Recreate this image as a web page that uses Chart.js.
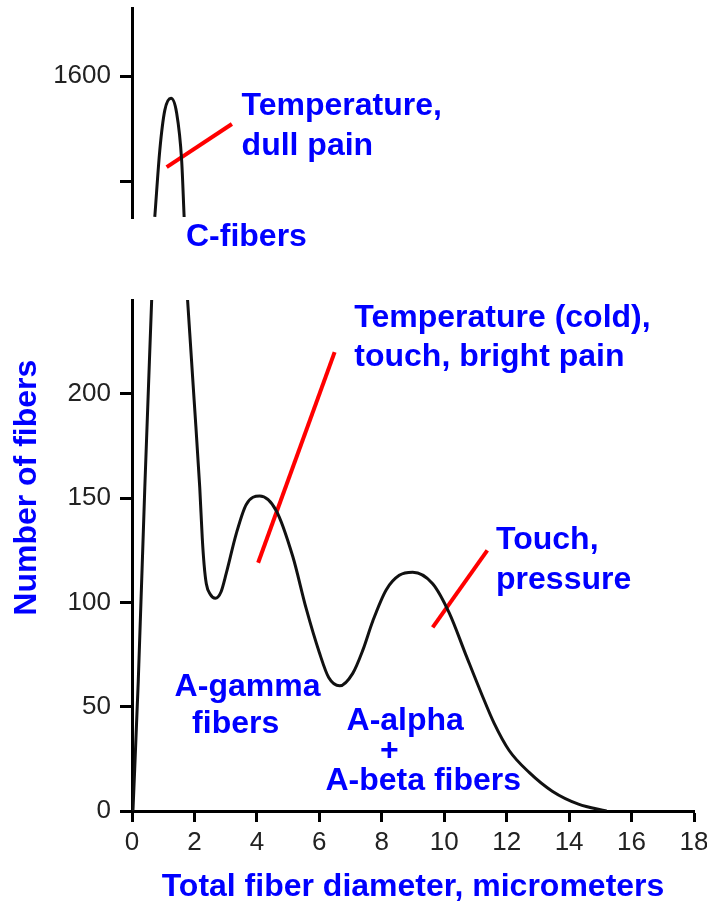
<!DOCTYPE html>
<html>
<head>
<meta charset="utf-8">
<script src="https://cdn.jsdelivr.net/npm/chart.js@4"></script>
<style>
  html, body { margin: 0; padding: 0; background: #fff; }
  #wrap { position: relative; width: 707px; height: 906px; }
  canvas { position: absolute; left: 0; top: 0; }
</style>
</head>
<body>
<div id="wrap">
  <canvas id="topChart" width="707" height="260"></canvas>
  <canvas id="mainChart" width="707" height="906"></canvas>
</div>
<script>
// fiber diameter distribution (micrometers vs. number of fibers)
// null entries mark the break in the y axis
const fiberDiameter = [0.03, 0.2, 0.41, 0.63, 0.68, 0.73, 0.89, 1.05, 1.25, 1.43, 1.59, 1.67, 1.72, 1.78, 1.99, 2.17, 2.25, 2.31, 2.38, 2.5, 2.67, 2.85, 3.02, 3.34, 3.66, 4.09, 4.62, 5.15, 5.58, 6.0, 6.3, 6.65, 7.07, 7.39, 7.71, 8.14, 8.56, 8.99, 9.63, 10.16, 10.69, 11.2, 11.6, 12.08, 12.72, 13.46, 14.3, 15.2];
const fiberCount = [0, 62, 155, 245, null, 1332, 1459, 1535, 1558, 1530, 1440, 1332, null, 245, 197, 155, 131, 118, 109, 104, 102, 105, 114, 133, 147, 151, 144, 122, 97, 76, 64, 60, 66, 77, 91, 106, 113, 114.5, 109, 95, 75, 56, 42, 29, 18.5, 9.5, 3.3, 0];

// red pointer lines from the labels to the peaks
const pointerX = [[1.11, 3.2], [4.04, 6.49], [9.63, 11.38]];
const pointerY = [[1427, 1509], [119, 220], [88, 125]];

const xTicks = [0, 2, 4, 6, 8, 10, 12, 14, 16, 18];
const lowerTicks = [0, 50, 100, 150, 200];
const upperTicks = [1400, 1600];

const topNotes = [
  { text: 'Temperature,', x: 3.51, y: 1543, align: 'left' },
  { text: 'dull pain', x: 3.51, y: 1467, align: 'left' },
  { text: 'C-fibers', x: 1.73, y: 1293, align: 'left' }
];
const mainNotes = [
  { text: 'Temperature (cold),', x: 7.12, y: 236.5, align: 'left' },
  { text: 'touch, bright pain', x: 7.12, y: 217.8, align: 'left' },
  { text: 'Touch,', x: 11.66, y: 129.8, align: 'left' },
  { text: 'pressure', x: 11.66, y: 110.6, align: 'left' },
  { text: 'A-gamma', x: 3.7, y: 59.6, align: 'center' },
  { text: 'fibers', x: 3.32, y: 41.8, align: 'center' },
  { text: 'A-alpha', x: 8.75, y: 43.3, align: 'center' },
  { text: '+', x: 8.24, y: 28.8, align: 'center' },
  { text: 'A-beta fibers', x: 9.33, y: 14.4, align: 'center' }
];

const BLUE = '#0000ff';
const labelFont = 'bold 32px "Liberation Sans", Arial';
const tickFont = { family: '"Liberation Sans", Arial', size: 26 };

const notesPlugin = {
  id: 'notes',
  afterDatasetsDraw(chart, args, opts) {
    const ctx = chart.ctx;
    const xs = chart.scales.x, ys = chart.scales.y;
    ctx.save();
    ctx.fillStyle = BLUE;
    ctx.font = labelFont;
    ctx.textBaseline = 'middle';
    (opts.items || []).forEach(n => {
      ctx.textAlign = n.align;
      ctx.fillText(n.text, xs.getPixelForValue(n.x), ys.getPixelForValue(n.y));
    });
    if (opts.yTitle) {
      ctx.translate(opts.yTitle.left, ys.getPixelForValue(opts.yTitle.y));
      ctx.rotate(-Math.PI / 2);
      ctx.textAlign = 'center';
      ctx.fillText(opts.yTitle.text, 0, 0);
    }
    ctx.restore();
  }
};

function curveData() {
  return fiberDiameter.map((d, i) => ({ x: d, y: fiberCount[i] }));
}

function datasets() {
  const sets = [{
    data: curveData(),
    borderColor: '#111',
    borderWidth: 3,
    pointRadius: 0,
    cubicInterpolationMode: 'monotone'
  }];
  pointerX.forEach((xs, k) => {
    sets.push({
      data: xs.map((x, i) => ({ x: x, y: pointerY[k][i] })),
      borderColor: '#ff0000',
      borderWidth: 4,
      pointRadius: 0
    });
  });
  return sets;
}

function yAxis(min, max, values, showLabel) {
  return {
    type: 'linear',
    min: min,
    max: max,
    afterFit: s => { s.width = 132; s.paddingTop = 0; s.paddingBottom = 0; },
    afterBuildTicks: s => { s.ticks = values.map(v => ({ value: v })); },
    ticks: {
      callback: v => showLabel(v) ? String(v) : '',
      font: tickFont,
      color: '#222',
      padding: 9
    },
    grid: { drawOnChartArea: false, tickLength: 12, tickColor: '#000', tickWidth: 3 },
    border: { color: '#000', width: 3 }
  };
}

const common = {
  responsive: false,
  animation: false,
  plugins: { legend: { display: false }, tooltip: { enabled: false } }
};

new Chart(document.getElementById('topChart'), {
  type: 'line',
  data: { datasets: datasets() },
  options: {
    ...common,
    layout: { padding: { top: 8, right: 13, bottom: 42, left: 0 } },
    plugins: { ...common.plugins, notes: { items: topNotes } },
    scales: {
      x: { type: 'linear', min: 0, max: 18, display: false },
      y: yAxis(1330, 1730, upperTicks, v => v === 1600)
    }
  },
  plugins: [notesPlugin]
});

new Chart(document.getElementById('mainChart'), {
  type: 'line',
  data: { datasets: datasets() },
  options: {
    ...common,
    layout: { padding: { top: 300, right: 13, bottom: 0, left: 0 } },
    plugins: {
      ...common.plugins,
      notes: { items: mainNotes, yTitle: { text: 'Number of fibers', left: 27, y: 155 } }
    },
    scales: {
      x: {
        type: 'linear',
        min: 0,
        max: 18,
        afterFit: s => { s.height = 95; s.paddingLeft = 0; s.paddingRight = 0; },
        afterBuildTicks: s => { s.ticks = xTicks.map(v => ({ value: v })); },
        ticks: { font: tickFont, color: '#222', padding: 5, maxRotation: 0 },
        grid: { drawOnChartArea: false, tickLength: 11, tickColor: '#000', tickWidth: 3 },
        border: { color: '#000', width: 3 },
        title: {
          display: true,
          text: 'Total fiber diameter, micrometers',
          color: BLUE,
          font: { family: '"Liberation Sans", Arial', size: 32, weight: 'bold' },
          padding: { top: 0, bottom: 0 }
        }
      },
      y: yAxis(0, 245, lowerTicks, () => true)
    }
  },
  plugins: [notesPlugin]
});
</script>
</body>
</html>
